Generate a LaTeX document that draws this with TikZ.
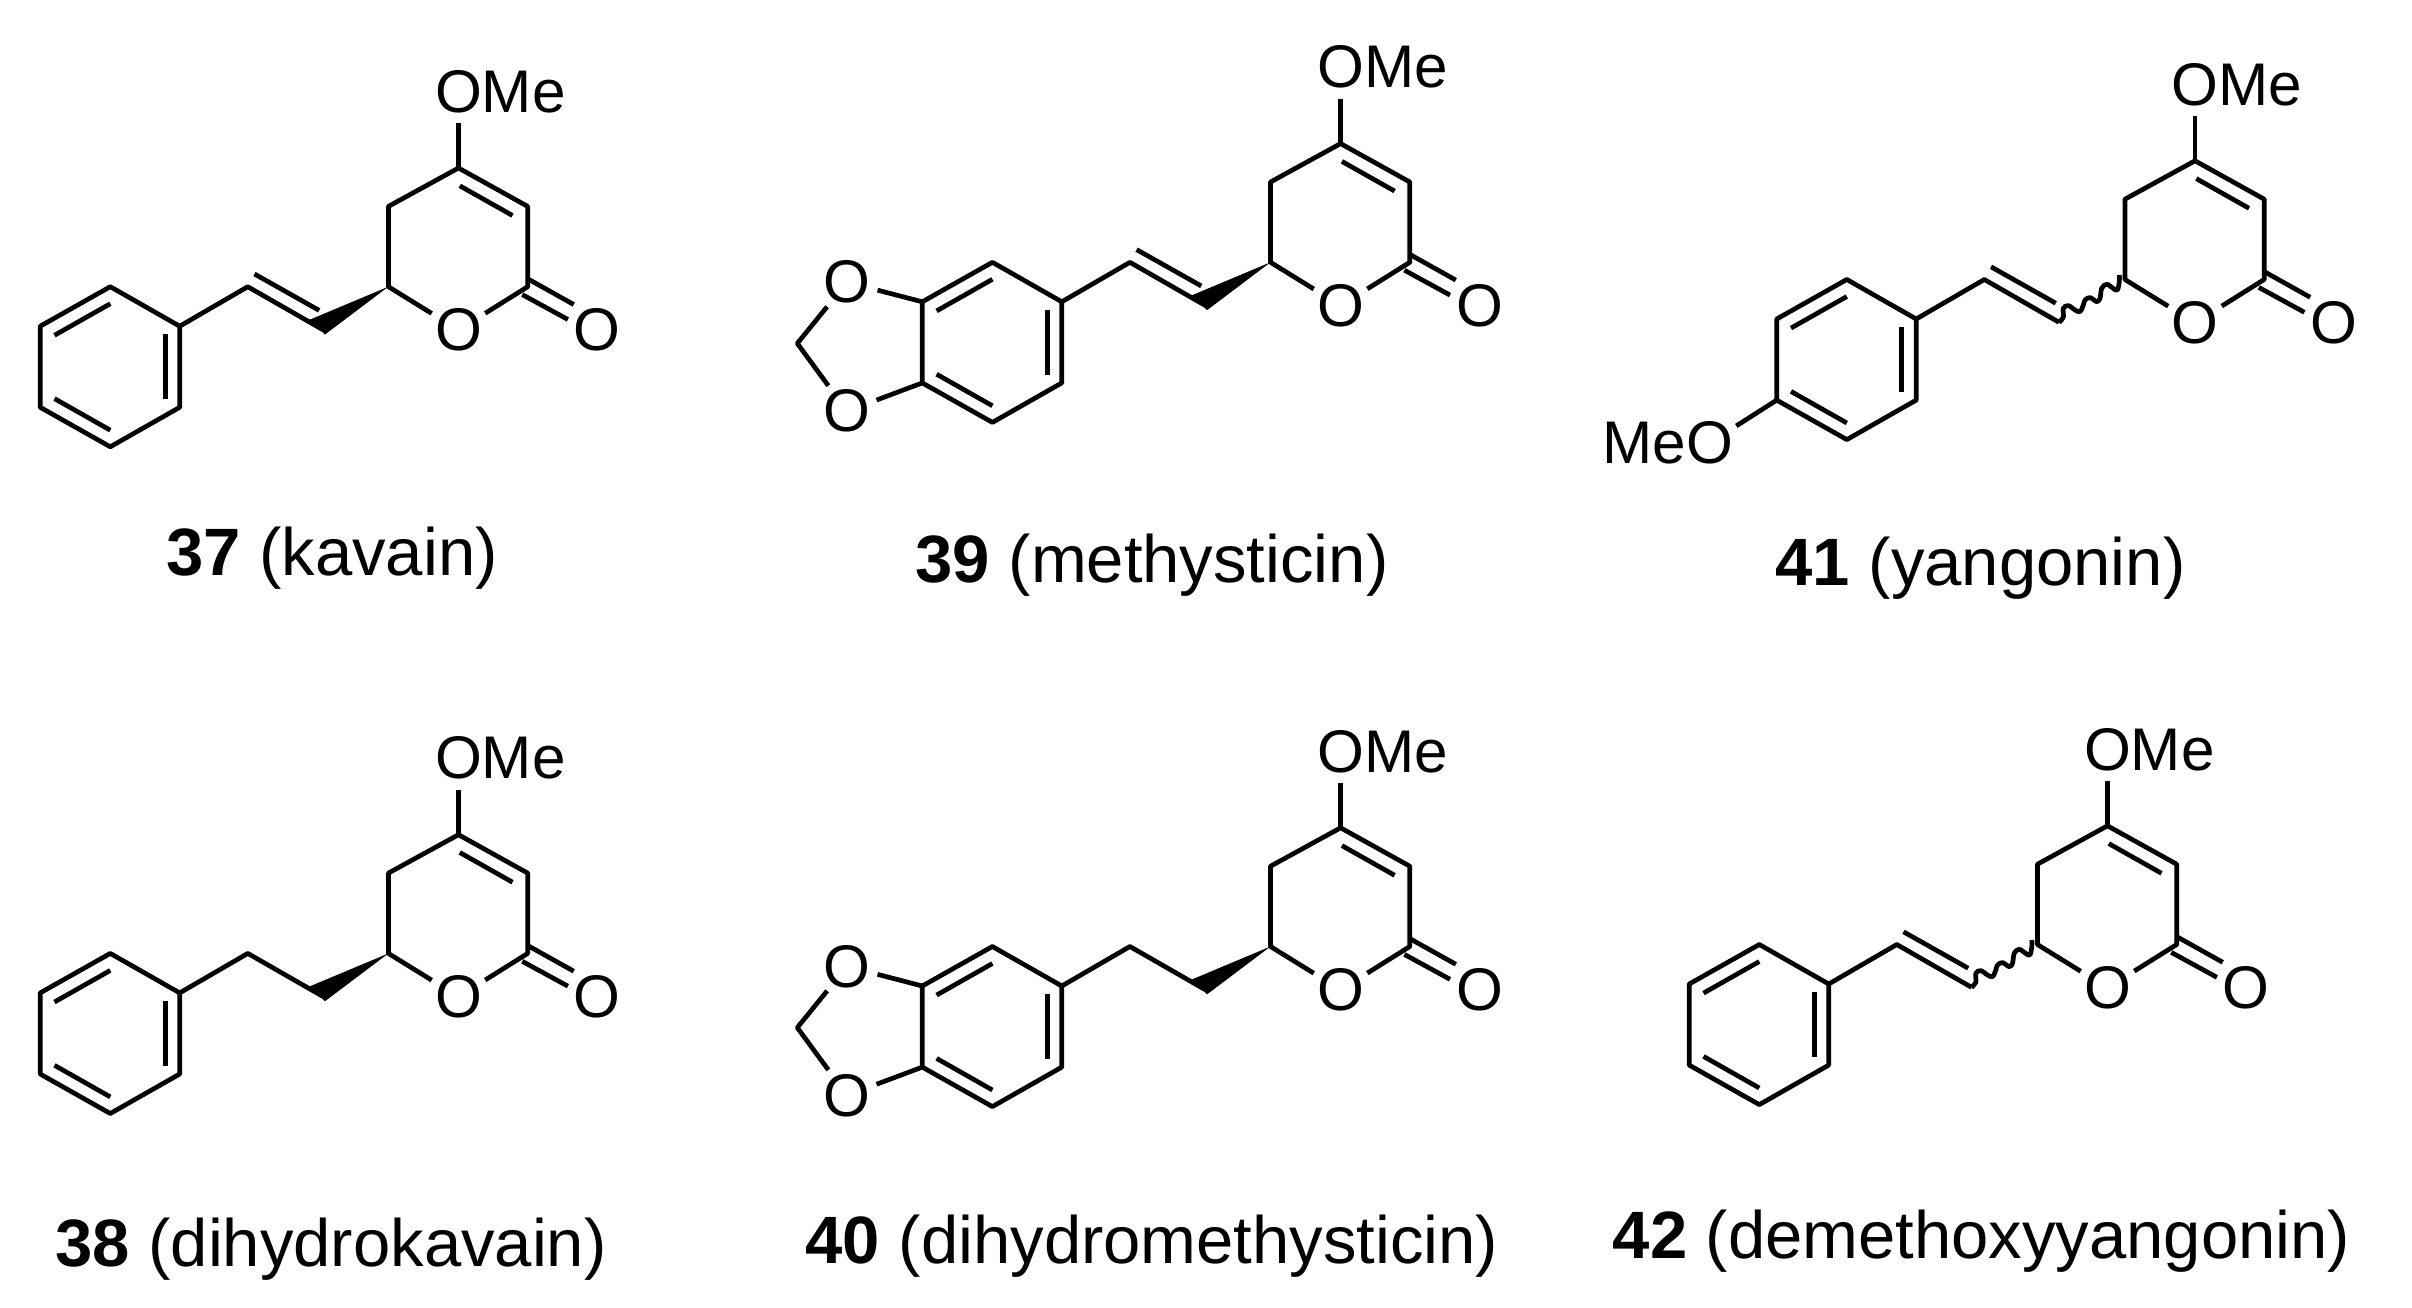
\documentclass[tikz,border=0pt]{standalone}
\usepackage{fontspec}
\setmainfont{Liberation Sans}
\tikzset{
  bond/.style={line width=2.35pt,line join=round,line cap=butt,black},
  atom/.style={circle,inner sep=0pt,outer sep=0pt,minimum size=30pt,font=\fontsize{30.1}{31}\selectfont},
  caption/.style={anchor=base,inner sep=0pt,font=\fontsize{33.5}{35}\selectfont},
}
% lactone ring, OMe, carbonyl, aryl ring, chain skeleton
\newcommand\coremol[1]{
  \coordinate (#1c4) at (458.5,168);
  \coordinate (#1c3) at (527.7,206.4);
  \coordinate (#1c2) at (527.7,286.7);
  \coordinate (#1cs) at (388.4,286.7);
  \coordinate (#1c5) at (388.4,206.4);
  \coordinate (#1vb) at (322.5,329.5);
  \coordinate (#1va) at (247.8,286.7);
  \coordinate (#1ar1) at (179.7,326.2);
  \coordinate (#1ar2) at (179.7,407.3);
  \coordinate (#1ar3) at (110.3,446.8);
  \coordinate (#1ar4) at (40.2,407.3);
  \coordinate (#1ar5) at (40.2,326.2);
  \coordinate (#1ar6) at (110.3,286.7);
  \node[atom] (#1ome) at (458.5,91.5) {O\rlap{Me}};
  \node[atom] (#1o) at (458.5,330) {O};
  \node[atom] (#1co) at (597.3,330) {O};
  \coordinate (#1d1a) at (459.8,185.8);
  \coordinate (#1d1b) at (512.5,215.5);
  \coordinate (#1e1a) at (527.7,278.8);
  \coordinate (#1e1b) at (573.7,304.5);
  \coordinate (#1e2a) at (522.3,294.6);
  \coordinate (#1e2b) at (567.9,319.5);
  \coordinate (#1i1a) at (165.2,334);
  \coordinate (#1i1b) at (165.2,399.4);
  \coordinate (#1i2a) at (54.5,335.3);
  \coordinate (#1i2b) at (110.3,303.7);
  \coordinate (#1i3a) at (54.5,398.6);
  \coordinate (#1i3b) at (110.3,430.2);
  \draw[bond] (#1ome) -- (#1c4);
  \draw[bond] (#1o) -- (#1cs) -- (#1c5) -- (#1c4) -- (#1c3) -- (#1c2) -- (#1o);
  \draw[bond] (#1d1a) -- (#1d1b);
  \draw[bond] (#1e1a) -- (#1e1b);
  \draw[bond] (#1e2a) -- (#1e2b);
  \draw[bond] (#1ar1) -- (#1ar2) -- (#1ar3) -- (#1ar4) -- (#1ar5) -- (#1ar6) -- cycle;
  \draw[bond] (#1i1a) -- (#1i1b);
  \draw[bond] (#1i2a) -- (#1i2b);
  \draw[bond] (#1i3a) -- (#1i3b);
  \draw[bond] (#1ar1) -- (#1va) -- (#1vb);
}
\newcommand\vinylinner[1]{
  \coordinate (#1v1) at (254.5,274);
  \coordinate (#1v2) at (319.2,310.4);
  \draw[bond] (#1v1) -- (#1v2);
}
\newcommand\chiralwedge[1]{
  \coordinate (#1w1) at (309,320);
  \coordinate (#1w2) at (325,334.5);
  \fill[black] (#1cs) -- (#1w1) -- (#1w2) -- cycle;
}
\newcommand\wavybond[1]{
  \begin{scope}[shift={(#1vb)}]
  \draw[line width=2.35pt,line join=round,black] plot[smooth,tension=.6] coordinates
    {(0,0) (4.3,-5) (4.3,-14) (9.3,-16.7) (16,-12.3) (21,-10.7) (24.3,-17.3) (26,-22.3) (31,-24.7) (37.7,-20.7) (41,-24) (42.7,-34) (47.7,-38) (54,-34) (58.3,-32.3) (60.3,-40.7) (60.3,-47.3)};
  \end{scope}
}
\newcommand\dioxole[1]{
  \node[atom] (#1ot) at (-35.1,306.6) {O};
  \node[atom] (#1ob) at (-35.1,435.5) {O};
  \coordinate (#1ch) at (-84.8,367.8);
  \draw[bond] (#1ar5) -- (#1ot) -- (#1ch) -- (#1ob) -- (#1ar4);
}
\begin{document}
\begin{tikzpicture}[x=.5pt,y=-.5pt]
\useasboundingbox (0,0) rectangle (2412,1307);
% 37
\begin{scope}[shift={(0,0)}]
  \coremol{a}\vinylinner{a}\chiralwedge{a}
\end{scope}
% 38
\begin{scope}[shift={(0,666.7)}]
  \coremol{b}\chiralwedge{b}
\end{scope}
% 39
\begin{scope}[shift={(882.1,-24.4)}]
  \coremol{c}\vinylinner{c}\chiralwedge{c}\dioxole{c}
\end{scope}
% 40
\begin{scope}[shift={(882.1,659.8)}]
  \coremol{d}\chiralwedge{d}\dioxole{d}
\end{scope}
% 41
\begin{scope}[shift={(1736.5,-7.2)}]
  \coremol{e}\vinylinner{e}\wavybond{e}
  \node[atom] (eom) at (-26.8,450.1) {\llap{Me}O};
  \draw[bond] (ear4) -- (eom);
\end{scope}
% 42
\begin{scope}[shift={(1649,657.8)}]
  \coremol{f}\vinylinner{f}\wavybond{f}
\end{scope}
\node[caption] (l37) at (332,575) {\textbf{37} (kavain)};
\node[caption] (l39) at (1152,582) {\textbf{39} (methysticin)};
\node[caption] (l41) at (1980.5,585.5) {\textbf{41} (yangonin)};
\node[caption] (l38) at (331,1266.5) {\textbf{38} (dihydrokavain)};
\node[caption] (l40) at (1152,1263) {\textbf{40} (dihydromethysticin)};
\node[caption] (l42) at (1981.5,1258.5) {\textbf{42} (demethoxyyangonin)};
\end{tikzpicture}
\end{document}
